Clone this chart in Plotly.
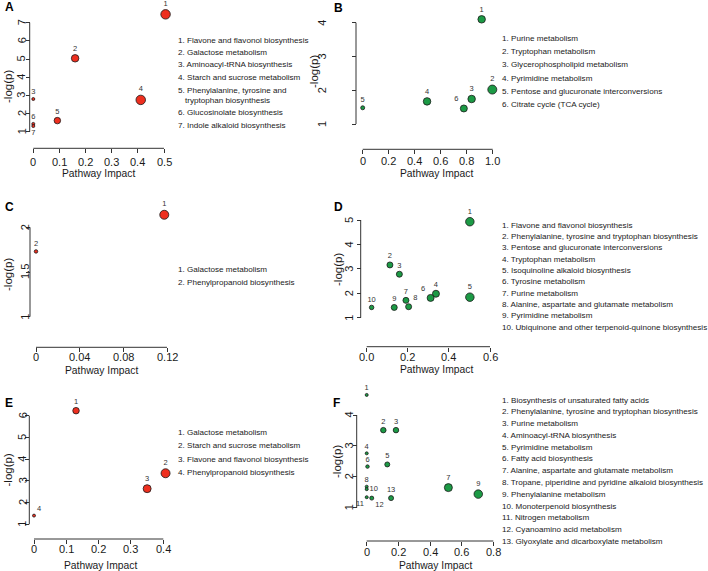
import plotly.graph_objects as go

W, H = 708, 571

# ---------------- data ----------------
a_impact = [0.506, 0.16, 0.0, 0.411, 0.092, 0.0, 0.0]
a_logp = [7.46, 5.04, 2.80, 2.75, 1.61, 1.43, 1.31]
a_names = ["Flavone and flavonol biosynthesis", "Galactose metabolism",
           "Aminoacyl-tRNA biosynthesis", "Starch and sucrose metabolism",
           "Phenylalanine, tyrosine and\ntryptophan biosynthesis",
           "Glucosinolate biosynthesis", "Indole alkaloid biosynthesis"]
a_xticks = [0, 0.1, 0.2, 0.3, 0.4, 0.5]
a_xlabels = ["0", "0.1", "0.2", "0.3", "0.4", "0.5"]
a_yticks = [1, 2, 3, 4, 5, 6, 7]

b_impact = [0.915, 0.997, 0.838, 0.495, 0.0, 0.778]
b_logp = [4.10, 2.02, 1.74, 1.67, 1.48, 1.46]
b_names = ["Purine metabolism", "Tryptophan metabolism", "Glycerophospholipid metabolism",
           "Pyrimidine metabolism", "Pentose and glucuronate interconversions",
           "Citrate cycle (TCA cycle)"]
b_xticks = [0, 0.2, 0.4, 0.6, 0.8, 1.0]
b_xlabels = ["0", "0.2", "0.4", "0.6", "0.8", "1.0"]
b_yticks = [1, 2, 3, 4]

c_impact = [0.1175, 0.0]
c_logp = [2.14, 1.73]
c_names = ["Galactose metabolism", "Phenylpropanoid biosynthesis"]
c_xticks = [0, 0.04, 0.08, 0.12]
c_xlabels = ["0", "0.04", "0.08", "0.12"]
c_yticks = [1, 1.5, 2]

d_impact = [0.502, 0.113, 0.159, 0.337, 0.502, 0.311, 0.191, 0.204, 0.134, 0.024]
d_logp = [4.93, 3.16, 2.78, 1.98, 1.84, 1.81, 1.71, 1.45, 1.42, 1.42]
d_names = ["Flavone and flavonol biosynthesis",
           "Phenylalanine, tyrosine and tryptophan biosynthesis",
           "Pentose and glucuronate interconversions", "Tryptophan metabolism",
           "Isoquinoline alkaloid biosynthesis", "Tyrosine metabolism", "Purine metabolism",
           "Alanine, aspartate and glutamate metabolism", "Pyrimidine metabolism",
           "Ubiquinone and other terpenoid-quinone biosynthesis"]
d_xticks = [0, 0.2, 0.4, 0.6]
d_xlabels = ["0.0", "0.2", "0.4", "0.6"]
d_yticks = [1, 2, 3, 4, 5]

e_impact = [0.13, 0.407, 0.35, 0.0]
e_logp = [6.23, 3.35, 2.64, 1.40]
e_names = ["Galactose metabolism", "Starch and sucrose metabolism",
           "Flavone and flavonol biosynthesis", "Phenylpropanoid biosynthesis"]
e_xticks = [0, 0.1, 0.2, 0.3, 0.4]
e_xlabels = ["0", "0.1", "0.2", "0.3", "0.4"]
e_yticks = [1, 2, 3, 4, 5, 6]

f_impact = [0.0, 0.105, 0.185, 0.0, 0.13, 0.005, 0.516, 0.0, 0.705, 0.0, 0.0, 0.032, 0.154]
f_logp = [4.65, 3.51, 3.51, 2.76, 2.40, 2.33, 1.65, 1.68, 1.44, 1.60, 1.34, 1.31, 1.31]
f_names = ["Biosynthesis of unsaturated fatty acids",
           "Phenylalanine, tyrosine and tryptophan biosynthesis", "Purine metabolism",
           "Aminoacyl-tRNA biosynthesis", "Pyrimidine metabolism", "Fatty acid biosynthesis",
           "Alanine, aspartate and glutamate metabolism",
           "Tropane, piperidine and pyridine alkaloid biosynthesis",
           "Phenylalanine metabolism", "Monoterpenoid biosynthesis", "Nitrogen metabolism",
           "Cyanoamino acid metabolism", "Glyoxylate and dicarboxylate metabolism"]
f_xticks = [0, 0.2, 0.4, 0.6, 0.8]
f_xlabels = ["0", "0.2", "0.4", "0.6", "0.8"]
f_yticks = [1, 2, 3, 4]

# ---------------- styles ----------------
RED = "#ee2f1f"
GREEN = "#1c9a45"
AX = "#333333"
TXT = "#1a1a1a"
FONT = "Liberation Sans, Arial, sans-serif"

a_sizes = [9.5, 7.5, 3, 9.5, 6.5, 3, 3]
a_tpos = ["top center"] * 6 + ["bottom center"]
b_sizes = [7.5, 9, 7.5, 7.5, 4, 7]
b_tpos = ["top center", "top center", "top center", "top center", "top center", "top left"]
c_sizes = [9, 3.5]
c_tpos = ["top center", "top center"]
d_sizes = [8.5, 6, 6, 7, 8.5, 7, 6, 6, 6, 4.5]
d_tpos = ["top center"] * 5 + ["top left", "top center", "top right", "top center", "top center"]
e_sizes = [6.5, 9, 8, 3]
e_tpos = ["top center", "top center", "top center", "top right"]
f_sizes = [3, 5.5, 5.5, 3, 5, 3.5, 8, 3, 8.5, 3, 3, 4, 5]
f_tpos = ["top center"] * 9 + ["middle right", "bottom left", "bottom right", "top center"]

# geometry (pixels): tick span on x / y, axis line positions, text placements
panels = [
    dict(tag="A", x=a_impact, y=a_logp, names=a_names, xt=a_xticks, xl=a_xlabels, yt=a_yticks,
         sizes=a_sizes, tpos=a_tpos, color=RED,
         gx=(33.3, 164.0), xline=148.3, xlab_y=161.5, gy=(131.7, 22.7), yline=29.7, ylab_x=21.5,
         tag_xy=(3, 7), xt_xy=(98, 173.5), yt_xy=(8, 87), leg=(176, 40, 12.5)),
    dict(tag="B", x=b_impact, y=b_logp, names=b_names, xt=b_xticks, xl=b_xlabels, yt=b_yticks,
         sizes=b_sizes, tpos=b_tpos, color=GREEN,
         gx=(362.7, 492.7), xline=149.3, xlab_y=161.0, gy=(124.0, 22.7), yline=356.0, ylab_x=322,
         tag_xy=(332, 8), xt_xy=(436, 173.5), yt_xy=(314, 72), leg=(499.5, 38.5, 13.2)),
    dict(tag="C", x=c_impact, y=c_logp, names=c_names, xt=c_xticks, xl=c_xlabels, yt=c_yticks,
         sizes=c_sizes, tpos=c_tpos, color=RED,
         gx=(36.0, 167.0), xline=347.3, xlab_y=357.0, gy=(316.7, 227.3), yline=30.0, ylab_x=25,
         tag_xy=(3, 207), xt_xy=(101, 370), yt_xy=(8, 275), leg=(176, 269.3, 13.4)),
    dict(tag="D", x=d_impact, y=d_logp, names=d_names, xt=d_xticks, xl=d_xlabels, yt=d_yticks,
         sizes=d_sizes, tpos=d_tpos, color=GREEN,
         gx=(366.7, 490.0), xline=346.7, xlab_y=357.0, gy=(317.7, 220.0), yline=360.7, ylab_x=349,
         tag_xy=(332, 207), xt_xy=(437, 369), yt_xy=(338, 270), leg=(500, 225, 11.37)),
    dict(tag="E", x=e_impact, y=e_logp, names=e_names, xt=e_xticks, xl=e_xlabels, yt=e_yticks,
         sizes=e_sizes, tpos=e_tpos, color=RED,
         gx=(34.0, 163.3), xline=539.0, xlab_y=549.0, gy=(524.3, 415.7), yline=29.3, ylab_x=22.5,
         tag_xy=(3, 403), xt_xy=(100, 565), yt_xy=(7.5, 470), leg=(176, 432.3, 13.45)),
    dict(tag="F", x=f_impact, y=f_logp, names=f_names, xt=f_xticks, xl=f_xlabels, yt=f_yticks,
         sizes=f_sizes, tpos=f_tpos, color=GREEN,
         gx=(366.7, 493.3), xline=541.0, xlab_y=551.5, gy=(507.7, 415.0), yline=356.7, ylab_x=348.5,
         tag_xy=(331, 403), xt_xy=(435, 565), yt_xy=(337, 462), leg=(500, 400, 11.78)),
]

fig = go.Figure()
annotations = []
shapes = []
layout_axes = {}


def ann(x, y, text, size, **kw):
    d = dict(x=x / W, y=1 - y / H, xref="paper", yref="paper", text=text, showarrow=False,
             font=dict(family=FONT, size=size, color=kw.pop("color", TXT)))
    d.update(kw)
    annotations.append(d)


for i, p in enumerate(panels, start=1):
    xn = "x" if i == 1 else f"x{i}"
    yn = "y" if i == 1 else f"y{i}"
    fig.add_trace(go.Scatter(
        x=p["x"], y=p["y"], xaxis=xn, yaxis=yn, mode="markers+text",
        text=[str(k + 1) for k in range(len(p["x"]))], textposition=p["tpos"],
        textfont=dict(family=FONT, size=7.5, color="#333333"),
        marker=dict(size=p["sizes"], color=p["color"], opacity=1,
                    line=dict(color="#1a1a1a", width=0.8)),
        cliponaxis=False, showlegend=False, hoverinfo="skip"))

    # axis geometry: tick span mapped to given pixels, plot area padded around it
    x0, x1 = p["gx"]
    xt0, xt1 = p["xt"][0], p["xt"][-1]
    kx = (x1 - x0) / (xt1 - xt0)
    padl, padr = min(8, x0 - 1), min(12, W - 1 - x1)
    yb, ytp = p["gy"]
    yt0, yt1 = p["yt"][0], p["yt"][-1]
    ky = (yb - ytp) / (yt1 - yt0)
    padt, padb = min(30, ytp - 1), 8

    common = dict(showline=False, ticks="outside", tickcolor=AX, tickwidth=1, ticklen=4,
                  showgrid=False, zeroline=False, showticklabels=False, anchor="free",
                  automargin=False, fixedrange=True)
    layout_axes["xaxis" if i == 1 else f"xaxis{i}"] = dict(
        domain=[(x0 - padl) / W, (x1 + padr) / W],
        range=[xt0 - padl / kx, xt1 + padr / kx], side="bottom",
        position=1 - p["xline"] / H, tickvals=p["xt"], **common)
    layout_axes["yaxis" if i == 1 else f"yaxis{i}"] = dict(
        domain=[1 - (yb + padb) / H, 1 - (ytp - padt) / H],
        range=[yt0 - padb / ky, yt1 + padt / ky], side="left",
        position=p["yline"] / W, tickvals=p["yt"], **common)

    # axis lines spanning first to last tick (R style detached axes)
    shapes.append(dict(type="line", xref=xn, yref="paper", x0=xt0, x1=xt1,
                       y0=1 - p["xline"] / H, y1=1 - p["xline"] / H,
                       line=dict(color=AX, width=1)))
    shapes.append(dict(type="line", xref="paper", yref=yn, x0=p["yline"] / W, x1=p["yline"] / W,
                       y0=yt0, y1=yt1, line=dict(color=AX, width=1)))

    # tick labels placed through the axes' own scales
    for v, lab in zip(p["xt"], p["xl"]):
        annotations.append(dict(x=v, xref=xn, y=1 - p["xlab_y"] / H, yref="paper", text=lab,
                                showarrow=False, xanchor="center", yanchor="middle",
                                font=dict(family=FONT, size=11, color=TXT)))
    for v in p["yt"]:
        annotations.append(dict(x=p["ylab_x"] / W, xref="paper", y=v, yref=yn, text=f"{v:g}",
                                showarrow=False, xanchor="center", yanchor="middle",
                                textangle=-90, font=dict(family=FONT, size=11, color=TXT)))

    # panel tag, axis titles
    ann(p["tag_xy"][0], p["tag_xy"][1], f"<b>{p['tag']}</b>", 12, xanchor="left",
        yanchor="middle", color="#000000")
    ann(p["xt_xy"][0], p["xt_xy"][1], "Pathway Impact", 10.3, xanchor="center", yanchor="middle")
    ann(p["yt_xy"][0], p["yt_xy"][1], "-log(p)", 11.5, xanchor="center", yanchor="middle",
        textangle=-90)

    # numbered pathway list
    lx, ly, dy = p["leg"]
    cur = ly
    for k, name in enumerate(p["names"], start=1):
        parts = name.split("\n")
        ann(lx, cur, f"{k}. {parts[0]}", 8.1, xanchor="left", yanchor="middle")
        for extra in parts[1:]:
            cur += dy * 0.82
            ann(lx + 7, cur, extra, 8.1, xanchor="left", yanchor="middle")
        cur += dy

fig.update_layout(
    width=W, height=H, margin=dict(l=0, r=0, t=0, b=0, pad=0),
    paper_bgcolor="white", plot_bgcolor="white",
    annotations=annotations, shapes=shapes, **layout_axes)

fig.write_html("out.html", config={"displayModeBar": False},
               post_script="document.body.style.margin='0px';")
